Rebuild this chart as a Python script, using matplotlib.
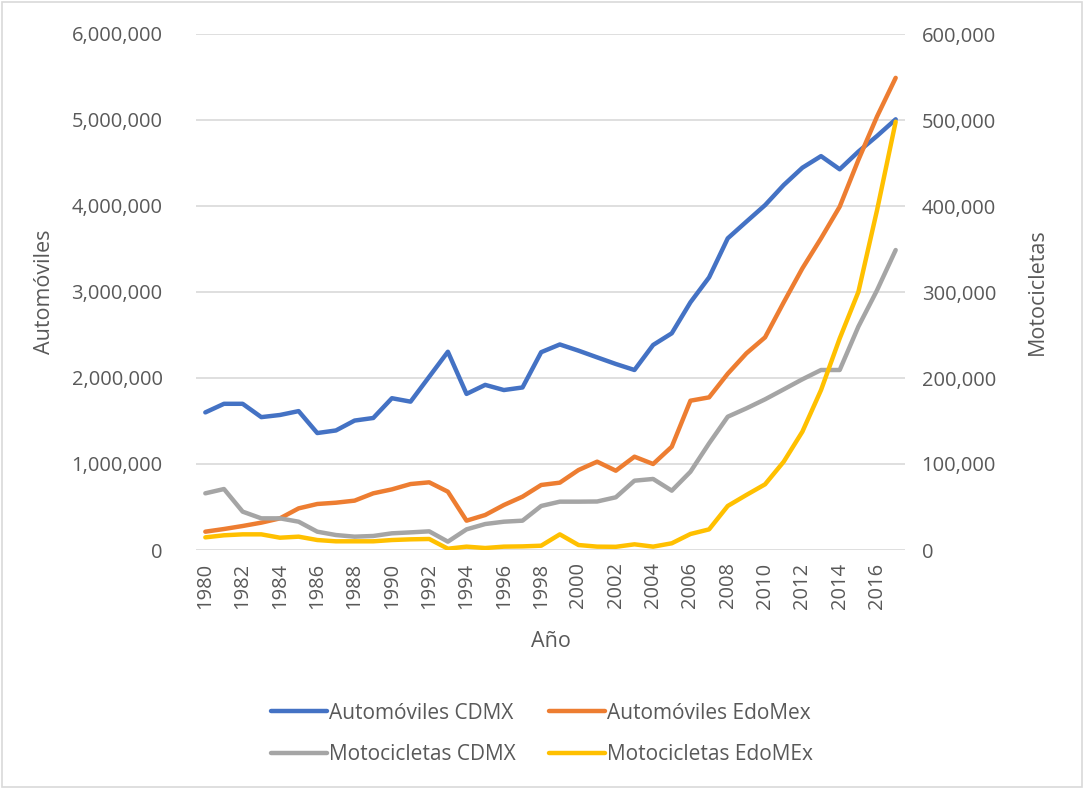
import matplotlib
matplotlib.use("Agg")
import matplotlib.pyplot as plt
from matplotlib.ticker import FuncFormatter, MultipleLocator
from matplotlib.patches import Rectangle

plt.rcParams["font.family"] = ["Open Sans", "DejaVu Sans"]

years = list(range(1980, 2018))

autos_cdmx = [1600000, 1700000, 1700000, 1545000, 1570000, 1615000, 1360000, 1390000,
              1505000, 1535000, 1765000, 1725000, 2015000, 2305000, 1815000, 1920000,
              1860000, 1890000, 2300000, 2390000, 2318000, 2240000, 2163000, 2093000,
              2384000, 2520000, 2880000, 3170000, 3624000, 3818000, 4010000, 4244000,
              4445000, 4580000, 4427000, 4632000, 4814000, 5008000]

autos_edomex = [213000, 244000, 279000, 318000, 368000, 484000, 535000, 550000,
                574000, 659000, 705000, 767000, 787000, 678000, 341000, 407000,
                523000, 620000, 756000, 783000, 930000, 1027000, 922000, 1085000,
                1000000, 1201000, 1736000, 1775000, 2050000, 2287000, 2473000, 2880000,
                3275000, 3624000, 3992000, 4535000, 5040000, 5490000]

motos_cdmx = [65900, 70900, 44600, 36800, 36800, 32900, 21300, 17400,
              15500, 16300, 19400, 20500, 21700, 9700, 24000, 30200,
              32900, 34100, 51200, 56200, 56200, 56400, 61300, 80600,
              82600, 69000, 91000, 124000, 155000, 164700, 175200, 186800,
              198500, 209300, 209300, 259700, 302000, 348800]

motos_edomex = [14700, 17100, 18200, 18200, 14300, 15500, 11600, 10100,
                10100, 10100, 11600, 12400, 12800, 1500, 3900, 2300,
                3900, 4200, 5000, 18200, 5800, 3900, 3700, 6600,
                3900, 7800, 18600, 24000, 51200, 64000, 76400, 102700,
                137600, 186000, 246000, 300000, 395000, 498000]

BLUE = "#4472C4"
ORANGE = "#ED7D31"
GRAY = "#A5A5A5"
YELLOW = "#FFC000"
TXT = "#595959"

fig = plt.figure(figsize=(10.84, 7.89), dpi=100)
ax = fig.add_axes([196 / 1084, 1 - 550 / 789, (905 - 196) / 1084, (550 - 34) / 789])
ax2 = ax.twinx()

lw = 3.2
l1, = ax.plot(years, autos_cdmx, color=BLUE, lw=lw, label="Automóviles CDMX",
              solid_joinstyle="round", solid_capstyle="round")
l2, = ax.plot(years, autos_edomex, color=ORANGE, lw=lw, label="Automóviles EdoMex",
              solid_joinstyle="round", solid_capstyle="round")
l3, = ax2.plot(years, motos_cdmx, color=GRAY, lw=lw, label="Motocicletas CDMX",
               solid_joinstyle="round", solid_capstyle="round")
l4, = ax2.plot(years, motos_edomex, color=YELLOW, lw=lw, label="Motocicletas EdoMEx",
               solid_joinstyle="round", solid_capstyle="round")

ax.set_xlim(1979.5, 2017.5)
ax.set_ylim(0, 6000000)
ax2.set_ylim(0, 600000)
ax.yaxis.set_major_locator(MultipleLocator(1000000))
ax2.yaxis.set_major_locator(MultipleLocator(100000))
fmt = FuncFormatter(lambda v, p: f"{int(v):,}")
ax.yaxis.set_major_formatter(fmt)
ax2.yaxis.set_major_formatter(fmt)
ax.set_xticks(years[::2])
ax.set_xticklabels([str(y) for y in years[::2]], rotation=90)

ax.grid(axis="y", color="#D9D9D9", lw=1.2)
ax.set_axisbelow(True)
for a in (ax, ax2):
    for s in a.spines.values():
        s.set_visible(False)
    a.tick_params(length=0, colors=TXT, labelsize=14.5)
ax.tick_params(axis="y", pad=24)
ax2.tick_params(axis="y", pad=12)
ax.tick_params(axis="x", pad=9)

ax.set_ylabel("Automóviles", color=TXT, fontsize=15.5, labelpad=12)
ax2.set_ylabel("Motocicletas", color=TXT, fontsize=15.5, labelpad=22)
ax.set_xlabel("Año", color=TXT, fontsize=15.5, labelpad=16)

leg = fig.legend([l1, l3, l2, l4],
                 ["Automóviles CDMX", "Motocicletas CDMX", "Automóviles EdoMex", "Motocicletas EdoMEx"],
                 ncol=2, loc="center", bbox_to_anchor=(0.5, 1 - 734 / 789),
                 frameon=False, fontsize=15, handlelength=2.7, handletextpad=0.1,
                 columnspacing=1.6, labelspacing=1.0, labelcolor=TXT)

fig.patches.append(Rectangle((0.002, 0.002), 0.996, 0.996, transform=fig.transFigure,
                             fill=False, edgecolor="#D9D9D9", lw=1.2))

fig.savefig("out.png", dpi=100, facecolor="white")
